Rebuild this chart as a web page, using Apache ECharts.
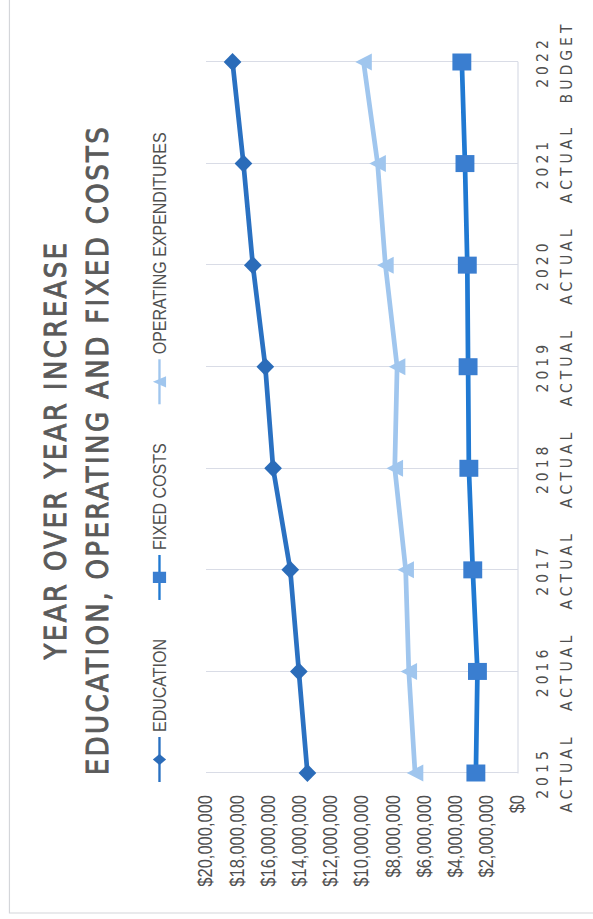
<!DOCTYPE html>
<html>
<head>
<meta charset="utf-8">
<script src="https://cdn.jsdelivr.net/npm/echarts@6/dist/echarts.min.js"></script>
<style>
  html, body { margin: 0; padding: 0; background: #fff; overflow: hidden; }
  body { width: 593px; height: 919px; position: relative; }
  /* The chart is laid out landscape and turned a quarter turn counter-clockwise */
  #chart {
    position: absolute; left: 0; top: 0;
    width: 919px; height: 502px;
    transform-origin: 0 0;
    transform: translate(0px, 919px) scale(1.1813, 1) rotate(-90deg);
  }
</style>
</head>
<body>
<div id="chart"></div>
<script>
// Years and budget status along the category axis
const years = ['2015', '2016', '2017', '2018', '2019', '2020', '2021', '2022'];
const kinds = ['ACTUAL', 'ACTUAL', 'ACTUAL', 'ACTUAL', 'ACTUAL', 'ACTUAL', 'ACTUAL', 'BUDGET'];

// Annual costs in dollars
const education = [13500000, 14050000, 14600000, 15700000, 16200000, 17000000, 17600000, 18300000];
const operating = [6600000, 7000000, 7200000, 7900000, 7750000, 8500000, 9000000, 9900000];
const fixedCosts = [2700000, 2600000, 2900000, 3150000, 3200000, 3250000, 3400000, 3600000];

const titleLines = ['YEAR OVER YEAR INCREASE', 'EDUCATION, OPERATING AND FIXED COSTS'];

const categories = years.map((y, i) => y + '\n' + kinds[i]);

const chart = echarts.init(document.getElementById('chart'), null, { renderer: 'svg' });

const titleStyle = {
  textAlign: 'center', textVerticalAlign: 'middle',
  font: '26px "DejaVu Sans"', fill: '#5a5a5a',
  stroke: '#5a5a5a', lineWidth: 0.8
};

const option = {
  animation: false,
  backgroundColor: '#ffffff',
  graphic: [
    {
      type: 'rect', silent: true, z: -1,
      shape: { x: 6, y: 8, width: 2000, height: 2000 },
      style: { fill: 'none', stroke: '#d4d6da', lineWidth: 1 }
    },
    {
      type: 'text', silent: true,
      style: Object.assign({ text: titleLines[0], x: 469, y: 47.5 }, titleStyle)
    },
    {
      type: 'text', silent: true,
      style: Object.assign({ text: titleLines[1], x: 469, y: 83 }, titleStyle)
    }
  ],
  legend: {
    left: 131, top: 122,
    itemWidth: 45, itemHeight: 14, itemGap: 38,
    textStyle: { fontFamily: 'Liberation Sans', fontSize: 16, color: '#505050' },
    data: ['EDUCATION', 'FIXED COSTS', 'OPERATING EXPENDITURES']
  },
  grid: { left: 146, right: 62, top: 174.4, bottom: 63.5, containLabel: false },
  xAxis: {
    type: 'category',
    boundaryGap: false,
    data: categories,
    axisLine: { show: true, lineStyle: { color: '#d9dce6', width: 1 } },
    axisTick: { show: false },
    splitLine: { show: true, lineStyle: { color: '#d9dce6', width: 1 } },
    axisLabel: {
      margin: 11, fontFamily: 'DejaVu Sans', fontSize: 14, lineHeight: 20,
      color: '#4f4f4f'
    }
  },
  yAxis: {
    type: 'value',
    min: 0, max: 20000000, interval: 2000000,
    axisLine: { show: false },
    axisTick: { show: false },
    splitLine: { show: false },
    axisLabel: {
      margin: 22, fontFamily: 'Liberation Sans', fontSize: 16.5, color: '#4f4f4f',
      formatter: v => '$' + v.toLocaleString('en-US')
    }
  },
  series: [
    {
      name: 'EDUCATION', type: 'line', data: education,
      symbol: 'diamond', symbolSize: [18, 15],
      lineStyle: { color: '#2a71c2', width: 4 },
      itemStyle: { color: '#2b6cb9' }
    },
    {
      name: 'OPERATING EXPENDITURES', type: 'line', data: operating,
      symbol: 'triangle', symbolSize: [17, 14],
      lineStyle: { color: '#a0c6ee', width: 4 },
      itemStyle: { color: '#a0c6ee' }
    },
    {
      name: 'FIXED COSTS', type: 'line', data: fixedCosts,
      symbol: 'rect', symbolSize: [17, 16],
      lineStyle: { color: '#2079d2', width: 4 },
      itemStyle: { color: '#3a7ed0' }
    }
  ]
};

chart.setOption(option);

// Letter-spaced headings and category captions
function spaceText() {
  const cats = new Set(years.concat(kinds));
  document.querySelectorAll('#chart text').forEach(t => {
    const s = t.textContent;
    if (titleLines.includes(s)) t.style.letterSpacing = '2.4px';
    else if (cats.has(s)) t.style.letterSpacing = '4px';
  });
}
chart.on('finished', spaceText);
spaceText();
</script>
</body>
</html>
